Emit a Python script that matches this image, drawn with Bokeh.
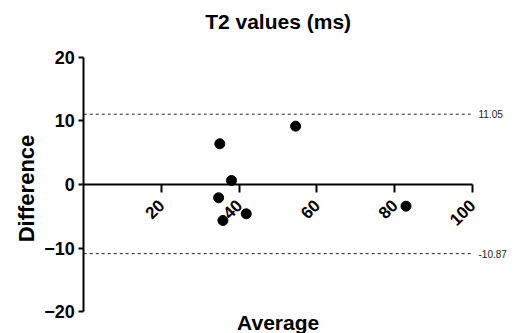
import math
from bokeh.plotting import figure
from bokeh.models import Range1d, FixedTicker, Label
from bokeh.core.properties import value
from bokeh.embed import file_html
from bokeh.resources import INLINE

# Data (Bland-Altman plot)
average = [35.0, 54.5, 38.0, 34.7, 35.8, 41.8, 82.9]
difference = [6.4, 9.17, 0.63, -2.09, -5.66, -4.61, -3.41]
limits = [11.05, -10.87]
limit_labels = ["11.05", "-10.87"]
x_ticks = [20, 40, 60, 80, 100]
y_ticks = [-20, -10, 0, 10, 20]
title_text = "T2 values (ms)"
x_title = "Average"
y_title = "Difference"

FONT = "Liberation Sans"
x_lo, x_hi = 0, x_ticks[-1]
y_lo, y_hi = y_ticks[0], y_ticks[-1]

p = figure(width=516, height=333, output_backend="svg", toolbar_location=None,
           x_range=Range1d(-21.41, 111.32), y_range=Range1d(-23.43, 28.93),
           min_border_left=0, min_border_right=0, min_border_top=0,
           min_border_bottom=0)
p.grid.visible = False
p.outline_line_color = None

# Y axis crossing at x = 0
ya = p.yaxis[0]
ya.fixed_location = x_lo
ya.ticker = FixedTicker(ticks=y_ticks)
ya.bounds = (y_lo, y_hi)
ya.major_label_text_font = FONT
ya.major_label_text_font_size = "18px"
ya.major_label_text_font_style = "bold"
ya.major_label_text_color = "black"
ya.major_label_standoff = 4
ya.axis_line_width = 2
ya.major_tick_line_width = 2
ya.major_tick_in = 0
ya.major_tick_out = 5
ya.minor_tick_line_color = None

# X axis crossing at y = 0
xa = p.xaxis[0]
xa.fixed_location = 0
xa.ticker = FixedTicker(ticks=x_ticks)
xa.bounds = (x_lo, x_hi)
xa.major_label_orientation = math.pi / 4
xa.major_label_text_font = FONT
xa.major_label_text_font_size = "17px"
xa.major_label_text_font_style = "bold"
xa.major_label_text_color = "black"
xa.major_label_standoff = 10
xa.axis_line_width = 2
xa.major_tick_line_width = 2
xa.major_tick_in = 0
xa.major_tick_out = 8
xa.minor_tick_line_color = None

# Limits of agreement
p.segment(x0=[x_lo] * len(limits), x1=[x_hi] * len(limits), y0=limits, y1=limits,
          line_color="#222222", line_width=1, line_dash="3 3")
p.text(x=[x_hi] * len(limits), y=limits, text=limit_labels, x_offset=6,
       text_baseline="middle", text_align="left", text_font=value(FONT),
       text_font_size="10px", text_color="#222222")

# Points
p.scatter(average, difference, size=10, color="black", marker="circle")

# Chart title at top
p.add_layout(Label(x=(x_lo + x_hi) / 2, y=p.y_range.end, y_offset=-9,
                   text=title_text, text_align="center", text_baseline="top",
                   text_font=FONT, text_font_size="21px",
                   text_font_style="bold", text_color="black"))

# X axis title at bottom
p.add_layout(Label(x=(x_lo + x_hi) / 2, y=p.y_range.start, text=x_title,
                   text_align="center", text_baseline="bottom",
                   text_font=FONT, text_font_size="21px",
                   text_font_style="bold", text_color="black"))

# Y axis title, vertical, left of the tick labels
p.add_layout(Label(x=x_lo, y=0, x_offset=-57, y_offset=-4, angle=math.pi / 2,
                   text=y_title, text_align="center", text_baseline="alphabetic",
                   text_font=FONT, text_font_size="22px",
                   text_font_style="bold", text_color="black"))

open("out.html", "w").write(file_html(p, INLINE))
